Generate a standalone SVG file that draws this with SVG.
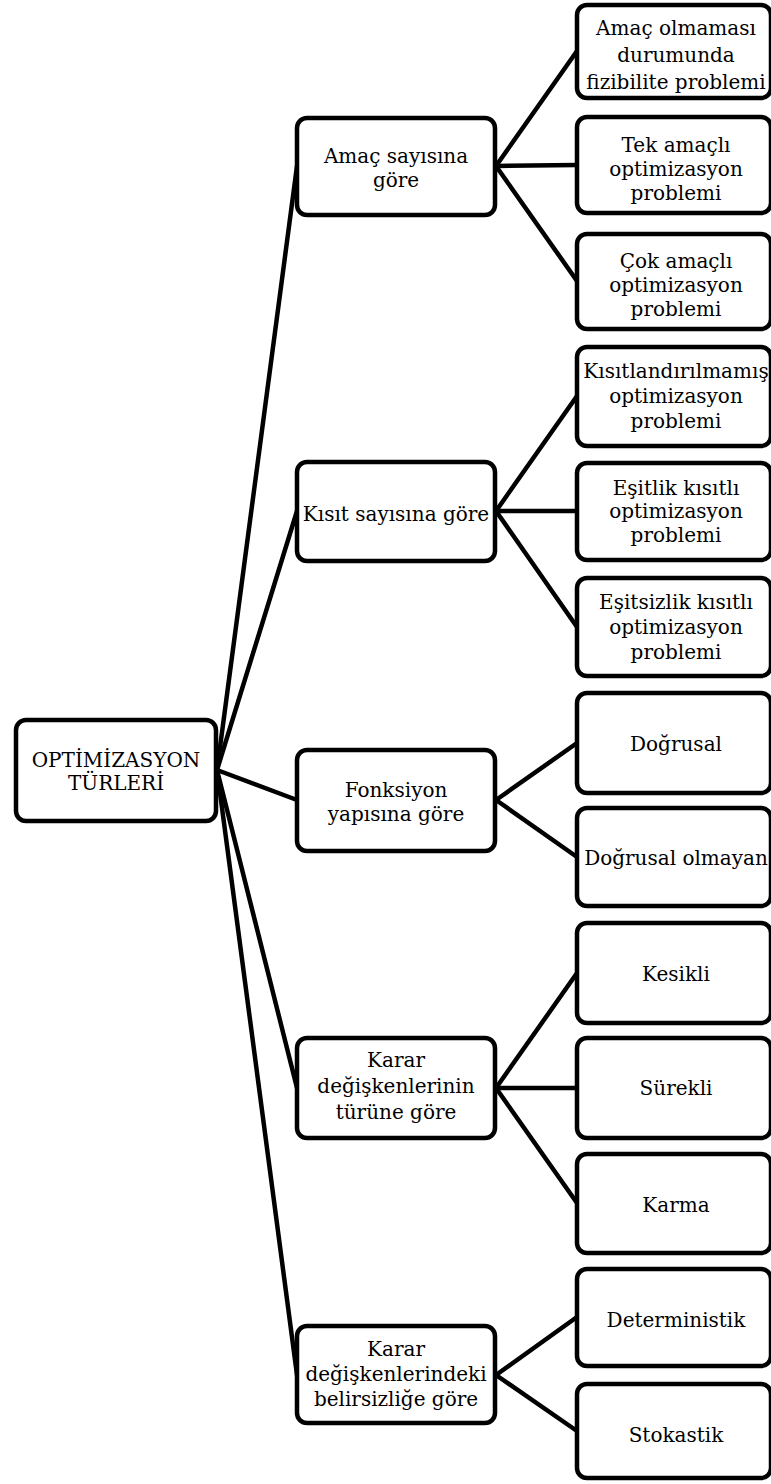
<svg xmlns="http://www.w3.org/2000/svg" width="771" height="1484" viewBox="0 0 771 1484">
<style>
.box{fill:#fff;stroke:#000;stroke-width:4.5}
.ln{stroke:#000;stroke-width:4.5;fill:none;stroke-linecap:round}
text{font-family:"DejaVu Serif","Liberation Serif",serif;font-size:20px;fill:#000;text-anchor:middle}
</style>
<rect width="771" height="1484" fill="#fff"/>
<g id="connectors">
<line class="ln" x1="217" y1="770" x2="297" y2="166"/>
<line class="ln" x1="217" y1="770" x2="297" y2="511"/>
<line class="ln" x1="217" y1="770" x2="297" y2="800"/>
<line class="ln" x1="217" y1="770" x2="297" y2="1088"/>
<line class="ln" x1="217" y1="770" x2="297" y2="1375"/>
<line class="ln" x1="496" y1="166" x2="577" y2="51"/>
<line class="ln" x1="496" y1="166" x2="577" y2="165"/>
<line class="ln" x1="496" y1="166" x2="577" y2="281"/>
<line class="ln" x1="496" y1="511" x2="577" y2="396"/>
<line class="ln" x1="496" y1="511" x2="577" y2="511"/>
<line class="ln" x1="496" y1="511" x2="577" y2="627"/>
<line class="ln" x1="496" y1="800" x2="577" y2="743"/>
<line class="ln" x1="496" y1="800" x2="577" y2="857"/>
<line class="ln" x1="496" y1="1088" x2="577" y2="973"/>
<line class="ln" x1="496" y1="1088" x2="577" y2="1088"/>
<line class="ln" x1="496" y1="1088" x2="577" y2="1203"/>
<line class="ln" x1="496" y1="1375" x2="577" y2="1317"/>
<line class="ln" x1="496" y1="1375" x2="577" y2="1431"/>
</g>
<g id="root"><rect class="box" x="16" y="720" width="200" height="101" rx="10"/><text x="116" y="767">OPTİMİZASYON</text><text x="116" y="790">TÜRLERİ</text></g>
<g id="l1-amac"><rect class="box" x="297" y="118" width="198" height="97" rx="10"/><text x="396" y="163">Amaç sayısına</text><text x="396" y="187">göre</text></g>
<g id="l1-kisit"><rect class="box" x="297" y="462" width="198" height="99" rx="10"/><text x="396" y="521">Kısıt sayısına göre</text></g>
<g id="l1-fonksiyon"><rect class="box" x="297" y="750" width="198" height="101" rx="10"/><text x="396" y="797">Fonksiyon</text><text x="396" y="821">yapısına göre</text></g>
<g id="l1-karar-tur"><rect class="box" x="297" y="1038" width="198" height="100" rx="10"/><text x="396" y="1067">Karar</text><text x="396" y="1093">değişkenlerinin</text><text x="396" y="1119">türüne göre</text></g>
<g id="l1-karar-belirsiz"><rect class="box" x="297" y="1326" width="198" height="97" rx="10"/><text x="396" y="1356">Karar</text><text x="396" y="1381">değişkenlerindeki</text><text x="396" y="1406">belirsizliğe göre</text></g>
<g id="l2-amacolmamasi"><rect class="box" x="577" y="5" width="194" height="93" rx="10"/><text x="676" y="35">Amaç olmaması</text><text x="676" y="62">durumunda</text><text x="676" y="89">fizibilite problemi</text></g>
<g id="l2-tekamacli"><rect class="box" x="577" y="117" width="194" height="96" rx="10"/><text x="676" y="152">Tek amaçlı</text><text x="676" y="176">optimizasyon</text><text x="676" y="200">problemi</text></g>
<g id="l2-cokamacli"><rect class="box" x="577" y="234" width="194" height="95" rx="10"/><text x="676" y="268">Çok amaçlı</text><text x="676" y="292">optimizasyon</text><text x="676" y="316">problemi</text></g>
<g id="l2-kisitsiz"><rect class="box" x="577" y="347" width="194" height="99" rx="10"/><text x="676" y="378">Kısıtlandırılmamış</text><text x="676" y="403">optimizasyon</text><text x="676" y="428">problemi</text></g>
<g id="l2-esitlik"><rect class="box" x="577" y="463" width="194" height="97" rx="10"/><text x="676" y="495">Eşitlik kısıtlı</text><text x="676" y="518">optimizasyon</text><text x="676" y="542">problemi</text></g>
<g id="l2-esitsizlik"><rect class="box" x="577" y="578" width="194" height="98" rx="10"/><text x="676" y="609">Eşitsizlik kısıtlı</text><text x="676" y="634">optimizasyon</text><text x="676" y="659">problemi</text></g>
<g id="l2-dogrusal"><rect class="box" x="577" y="693" width="194" height="100" rx="10"/><text x="676" y="751">Doğrusal</text></g>
<g id="l2-dogrusal-olmayan"><rect class="box" x="577" y="808" width="194" height="98" rx="10"/><text x="676" y="865">Doğrusal olmayan</text></g>
<g id="l2-kesikli"><rect class="box" x="577" y="923" width="194" height="100" rx="10"/><text x="676" y="981">Kesikli</text></g>
<g id="l2-surekli"><rect class="box" x="577" y="1038" width="194" height="100" rx="10"/><text x="676" y="1095">Sürekli</text></g>
<g id="l2-karma"><rect class="box" x="577" y="1154" width="194" height="99" rx="10"/><text x="676" y="1212">Karma</text></g>
<g id="l2-deterministik"><rect class="box" x="577" y="1269" width="194" height="97" rx="10"/><text x="676" y="1327">Deterministik</text></g>
<g id="l2-stokastik"><rect class="box" x="577" y="1384" width="194" height="94" rx="10"/><text x="676" y="1442">Stokastik</text></g>
</svg>
